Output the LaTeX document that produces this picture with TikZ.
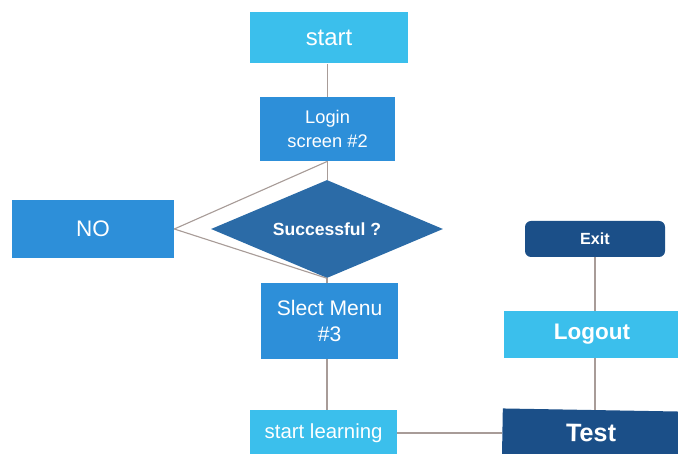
\documentclass[tikz,border=0pt]{standalone}
\usepackage{fontspec}
\setmainfont{Liberation Sans}
\usetikzlibrary{shapes.geometric}
\definecolor{lightblue}{HTML}{3BBFEC}
\definecolor{midblue}{HTML}{2D8FD9}
\definecolor{deepblue}{HTML}{2B6BA7}
\definecolor{navyblue}{HTML}{1B4F88}
\definecolor{linkgray}{HTML}{A89C98}
\begin{document}
\begin{tikzpicture}[
    box/.style={rectangle, draw=none, text=white, align=center, inner sep=0pt},
    link/.style={draw=linkgray, line width=0.8pt}]
                \useasboundingbox (0,0) rectangle (16.95,11.35);
                \node[box, fill=lightblue, minimum width=3.95cm, minimum height=1.275cm, font=\fontsize{17}{20}\selectfont] (start) at (8.225,10.4) {start};
                \node[box, fill=midblue, minimum width=3.375cm, minimum height=1.6cm, font=\fontsize{13}{17}\selectfont] (login) at (8.19,8.125) {Login\\screen \#2};
                \node[diamond, aspect=2.37, fill=deepblue, text=white, inner sep=0pt, minimum width=5.8cm, minimum height=2.45cm, font=\bfseries\fontsize{12.5}{15}\selectfont] (check) at (8.175,5.625) {Successful ?};
                \node[box, fill=midblue, minimum width=4.05cm, minimum height=1.45cm, font=\fontsize{16}{19}\selectfont] (no) at (2.325,5.625) {NO};
                \node[box, fill=midblue, minimum width=3.425cm, minimum height=1.9cm, font=\fontsize{15}{19}\selectfont] (menu) at (8.24,3.325) {Slect Menu\\\#3};
                \node[box, fill=lightblue, minimum width=3.675cm, minimum height=1.15cm, font=\fontsize{14.5}{18}\selectfont] (learn) at (8.09,0.525) {start learning};
                \node[box, fill=navyblue, minimum width=4.43cm, minimum height=1.15cm, rotate=-1, font=\bfseries\fontsize{18}{21}\selectfont] (test) at (14.775,0.525) {Test};
                \node[box, fill=lightblue, minimum width=4.4cm, minimum height=1.175cm, font=\bfseries\fontsize{16}{19}\selectfont] (logout) at (14.8,2.99) {Logout};
                \node[box, fill=navyblue, rounded corners=0.15cm, minimum width=3.5cm, minimum height=0.9cm, font=\bfseries\fontsize{11.5}{14}\selectfont] (exit) at (14.875,5.375) {Exit};

                \draw[link] (start.south -| login) to (login.north); \draw[link] (login) to (login |- check.north);
                \draw[link] (login.south) to (no.east); \draw[link] (check.south) to (no.east);
                \draw[link] (check) to (check |- menu.north); \draw[link] (menu.south -| check) to (check |- learn.north);
                \draw[link] (learn) to (learn -| test.west); \draw[link] (test.north -| exit) to (exit |- logout.south); \draw[link] (logout.north -| exit) to (exit);
            \end{tikzpicture}
\end{document}
